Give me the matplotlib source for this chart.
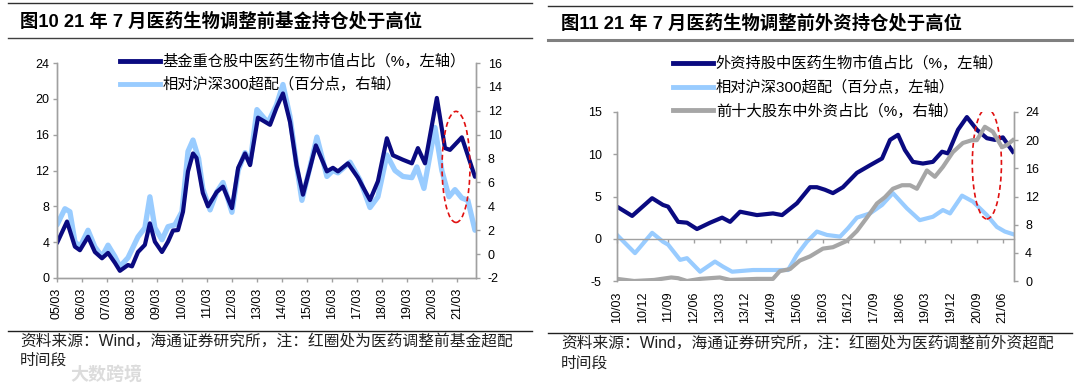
import matplotlib
matplotlib.use("Agg")
import matplotlib.pyplot as plt
from matplotlib.patches import Ellipse
from matplotlib.lines import Line2D

plt.rcParams['font.family'] = ['Liberation Sans', 'Noto Sans CJK SC']
plt.rcParams['axes.unicode_minus'] = False

# ─── 图10：基金持仓（横轴为自 2005/03 起的月数）────────────────────────────

fondo_meses = [0, 4.8, 8.6, 11, 14.9, 18.2, 21.6, 24.5, 27.8, 30.2, 34.1, 36, 38.9,
               42.2, 44.6, 47, 50.4, 53.3, 55.7, 58.1, 60.5, 62.9, 65.3, 67, 70,
               72.5, 76.7, 79.7, 84, 87, 90.3, 92.7, 96.5, 102.3, 105.4, 108.5,
               111.9, 115, 118.1, 121.5, 124.3, 129.6, 132.5, 134.9, 139.7, 144.5,
               150.3, 154.1, 158.4, 161.3, 166.1, 170.4, 173.3, 176.7, 182.4, 186.3,
               188.7, 194.4, 200.7]
fondo_peso = [3.9, 6.3, 3.5, 3.1, 4.6, 2.9, 2.2, 2.8, 1.7, 0.8, 1.45, 1.3, 2.9,
              3.7, 6.1, 4.05, 2.9, 4.05, 5.3, 5.35, 7.4, 11.9, 13.9, 13.4, 9.5,
              8.0, 9.6, 10.2, 7.8, 12.3, 13.9, 12.6, 17.9, 17.1, 19.0, 20.6,
              17.4, 12.6, 9.3, 12.3, 14.8, 11.9, 12.3, 11.9, 12.8, 11.2,
              8.7, 10.8, 15.6, 13.7, 13.2, 12.8, 14.5, 12.8, 20.1, 14.5,
              14.3, 15.7, 11.3]

sobre_meses = [0, 3.8, 6.2, 8.6, 11, 14.9, 18.2, 21.6, 24.5, 27.8, 30.2, 34.1, 38.9,
               42.2, 44.6, 47, 50.4, 53.3, 56.6, 60, 62.9, 65.3, 68, 70, 73.5,
               76.7, 79.7, 84, 87, 90.3, 92.7, 96, 101.3, 105.4, 108.5, 111.9,
               115, 117.6, 121.5, 124.8, 129.6, 132.5, 134.9, 140.7, 145.5, 150.3,
               154.1, 158.4, 162.3, 166.1, 170.4, 172.8, 176.2, 181.5, 184.8, 188.2,
               191.1, 194.4, 197.3, 200.7]
sobre_peso = [2.45, 3.8, 3.55, 1.05, 0.6, 2.0, 0.6, -0.2, 0.75, -0.2, -1.05, -0.3, 1.45,
              2.2, 4.8, 2.2, 1.2, 2.3, 2.45, 3.55, 8.6, 9.55, 8.0, 5.5, 3.7,
              5.2, 6.0, 3.5, 7.0, 8.5, 7.6, 12.1, 11.0, 12.5, 14.2, 11.5,
              7.5, 4.5, 7.3, 9.8, 6.5, 7.0, 6.8, 7.7, 6.2, 3.9,
              4.8, 8.3, 7.0, 6.5, 6.4, 7.3, 5.5, 10.6, 7.0, 4.8,
              5.4, 4.7, 4.5, 2.0]

ticks_izq = [0, 12, 24, 36, 48, 60, 72, 84, 96, 108, 120, 132, 144, 156, 168, 180, 192]
etiquetas_izq = ["05/03", "06/03", "07/03", "08/03", "09/03", "10/03", "11/03", "12/03",
                 "13/03", "14/03", "15/03", "16/03", "17/03", "18/03", "19/03", "20/03",
                 "21/03"]

# ─── 图11：外资持仓（横轴为自 2010/03 起的月数）────────────────────────────

ext_meses = [0, 5.3, 12.3, 16.1, 17.9, 21.4, 24.5, 28, 32.6, 36.8, 39.6, 43.1, 49,
             54.6, 57.8, 63, 67.6, 70, 72.8, 75.6, 79.1, 84, 88.6, 92.8, 95.6,
             98.4, 100.8, 103.6, 107.1, 110.6, 113.8, 115.9, 119.4, 122.5, 126,
             129.5, 132.3, 135.1, 138.6]
ext_peso = [3.8, 2.7, 4.8, 4.0, 3.8, 2.0, 1.9, 1.15, 1.9, 2.5, 2.0, 3.2, 2.8,
            3.0, 2.8, 4.2, 6.1, 6.1, 5.8, 5.4, 6.1, 7.8, 8.7, 9.5, 11.7,
            12.3, 10.5, 9.1, 8.9, 9.1, 10.3, 10.1, 12.9, 14.4, 12.9,
            11.9, 11.7, 12.0, 10.3]

ext_sobre_meses = [0, 6.3, 12.3, 16.1, 17.9, 22.1, 24.5, 29.1, 34.3, 37.1, 40.3, 47.6,
                   54.6, 59.9, 63, 66.5, 70, 73.5, 78.1, 80.9, 84, 88.6, 92.8, 96.6,
                   101.5, 106, 110.6, 114.1, 116.6, 120.8, 124.6, 129.5, 133, 135.8,
                   138.6]
ext_sobre = [0.45, -1.7, 0.7, -0.35, -0.7, -2.5, -2.3, -3.9, -2.7, -3.3, -3.9, -3.7,
             -3.7, -3.7, -1.9, -0.35, 0.85, 0.45, 0.25, 1.25, 2.5, 3.0, 4.0, 5.4,
             3.6, 2.2, 2.6, 3.4, 3.0, 5.1, 4.4, 2.8, 1.4, 0.85,
             0.55]

top10_meses = [0, 6, 13, 19, 21.4, 24.5, 29.1, 36, 39.6, 49, 54.6, 57, 60.6, 64,
               67.6, 72.1, 75.6, 80.5, 84, 87.5, 91, 93.8, 96.6, 99.8, 102.6, 105,
               108.5, 111.3, 114.1, 117.6, 121.1, 124.3, 126, 128.8, 131.6, 134.8,
               136.5, 138.6]
top10_ext = [0.3, 0, 0.15, 0.5, 0.4, 0, 0.3, 0.5, 0.15, 0.3, 0.3, 1.4, 1.7, 2.9,
             3.5, 4.6, 4.8, 5.7, 7.1, 9.0, 11.0, 11.9, 13.1, 13.6, 13.6, 13.1,
             15.7, 14.8, 16.2, 18.3, 19.6, 20.0, 20.0, 21.9, 21.2, 19.0,
             19.3, 20.0]

ticks_der = [0, 9, 18, 27, 36, 45, 54, 63, 72, 81, 90, 99, 108, 117, 126, 135]
etiquetas_der = ["10/03", "10/12", "11/09", "12/06", "13/03", "13/12", "14/09", "15/06",
                 "16/03", "16/12", "17/09", "18/06", "19/03", "19/12", "20/09", "21/06"]

AZUL = "#0A0A80"
CELESTE = "#99CCFF"
GRIS = "#A6A6A6"
EJE = "#A0A0A0"
ROJO = "#E01010"

W, H = 1080, 386
fig = plt.figure(figsize=(W / 100, H / 100), dpi=100)


def fx(px):
    return px / W


def fy(py):
    return 1 - py / H


def estilo_ejes(ax):
    for lado in ax.spines.values():
        lado.set_color(EJE)
        lado.set_linewidth(1.0)
    ax.spines["top"].set_visible(False)
    ax.tick_params(colors=EJE, labelcolor="black", labelsize=9, length=3, width=1)


# ─── Panel izquierdo ──────────────────────────────────────────────────────────

ax1 = fig.add_axes([fx(57), fy(278), (476 - 57) / W, (278 - 63) / H])
ax1r = ax1.twinx()
ax1.set_zorder(ax1r.get_zorder() + 1)
ax1.patch.set_visible(False)

ax1r.plot(sobre_meses, sobre_peso, color=CELESTE, lw=3.8, solid_joinstyle="round",
          solid_capstyle="round")
ax1.plot(fondo_meses, fondo_peso, color=AZUL, lw=3.0, solid_joinstyle="round",
         solid_capstyle="round")

ax1.set_xlim(0, 201.2)
ax1.set_ylim(0, 24)
ax1r.set_ylim(-2, 16)
ax1.set_yticks(range(0, 25, 4))
ax1r.set_yticks(range(-2, 17, 2))
for a in (ax1, ax1r):
    estilo_ejes(a)
ax1.set_xticks(ticks_izq)
ax1.set_xticklabels(etiquetas_izq, rotation=90)
ax1.tick_params(axis="y", pad=2.5)
ax1r.tick_params(axis="y", pad=5.5)
ax1.tick_params(axis="x", pad=4)

ax1.add_patch(Ellipse((191.6, 12.4), width=13.4, height=12.4, fill=False,
                      ec=ROJO, lw=1.2, ls=(0, (3, 2)), zorder=5))

h_izq = [Line2D([], [], color=AZUL, lw=3.5), Line2D([], [], color=CELESTE, lw=3.5)]
ax1.legend(h_izq, ["基金重仓股中医药生物市值占比（%，左轴）", "相对沪深300超配（百分点，右轴）"],
           loc="upper left", bbox_to_anchor=(fx(120), fy(54)), bbox_transform=fig.transFigure,
           frameon=False, fontsize=11, handlelength=2.6, handletextpad=0.2,
           labelspacing=0.5, borderpad=0, borderaxespad=0)

# ─── Panel derecho ────────────────────────────────────────────────────────────

ax2 = fig.add_axes([fx(617), fy(281), (1014 - 617) / W, (281 - 112) / H])
ax2r = ax2.twinx()

ax2.plot(ext_sobre_meses, ext_sobre, color=CELESTE, lw=3.0, solid_joinstyle="round")
ax2.plot(ext_meses, ext_peso, color=AZUL, lw=3.0, solid_joinstyle="round")
ax2r.plot(top10_meses, top10_ext, color=GRIS, lw=3.0, solid_joinstyle="round")

ax2.set_xlim(0, 139)
ax2.set_ylim(-5, 15)
ax2r.set_ylim(0, 24)
for a in (ax2, ax2r):
    estilo_ejes(a)
    a.spines["bottom"].set_position(("data", 0))
ax2r.spines["bottom"].set_visible(False)
# el eje X cruza en 0, pero las etiquetas quedan abajo
ax2.set_yticks(range(-5, 16, 5))
ax2r.set_yticks(range(0, 25, 4))
ax2.set_xticks(ticks_der)
ax2.set_xticklabels(etiquetas_der, rotation=90)
ax2.tick_params(axis="y", pad=8)
ax2r.tick_params(axis="y", pad=5)
ax2.tick_params(axis="x", pad=35)

ax2.add_patch(Ellipse((129.5, 8.9), width=10.2, height=13.1, fill=False,
                      ec=ROJO, lw=1.2, ls=(0, (3, 2)), zorder=5))

h_der = [Line2D([], [], color=AZUL, lw=3.5), Line2D([], [], color=CELESTE, lw=3.5),
         Line2D([], [], color=GRIS, lw=3.5)]
ax2r.legend(h_der, ["外资持股中医药生物市值占比（%，左轴）", "相对沪深300超配（百分点，左轴）",
                    "前十大股东中外资占比（%，右轴）"],
            loc="upper left", bbox_to_anchor=(fx(673), fy(56)), bbox_transform=fig.transFigure,
            frameon=False, fontsize=11, handlelength=2.6, handletextpad=0.2,
            labelspacing=0.55, borderpad=0, borderaxespad=0)

# ─── Títulos, filetes y notas ─────────────────────────────────────────────────

def filete(x0, x1, y, color, lw):
    fig.add_artist(Line2D([fx(x0), fx(x1)], [fy(y), fy(y)], color=color, lw=lw))


filete(8, 532, 3, "#303030", 1.0)
filete(8, 532, 38, "#404040", 1.0)
filete(548, 1072, 6, "#303030", 1.0)
filete(548, 1072, 40, "#808080", 2.2)
filete(8, 532, 331, "#202020", 1.0)
filete(548, 1072, 333, "#202020", 1.0)

fig.text(fx(20), fy(21), "图10 21 年 7 月医药生物调整前基金持仓处于高位",
         fontsize=13.2, fontweight="bold", va="center", ha="left")
fig.text(fx(561), fy(23), "图11 21 年 7 月医药生物调整前外资持仓处于高位",
         fontsize=13.2, fontweight="bold", va="center", ha="left")

fig.text(fx(20), fy(342), "资料来源：Wind，海通证券研究所，注：红圈处为医药调整前基金超配",
         fontsize=11.3, va="center", ha="left", color="#202020")
fig.text(fx(20), fy(360), "时间段", fontsize=11.3, va="center", ha="left", color="#202020")
fig.text(fx(561), fy(344), "资料来源：Wind，海通证券研究所，注：红圈处为医药调整前外资超配",
         fontsize=11.3, va="center", ha="left", color="#202020")
fig.text(fx(561), fy(363), "时间段", fontsize=11.3, va="center", ha="left", color="#202020")

fig.text(fx(70), fy(375), "大数跨境", fontsize=13, fontweight="bold", va="center",
         ha="left", color="#dcdcdc", zorder=0)

fig.savefig("out.png", dpi=100)
